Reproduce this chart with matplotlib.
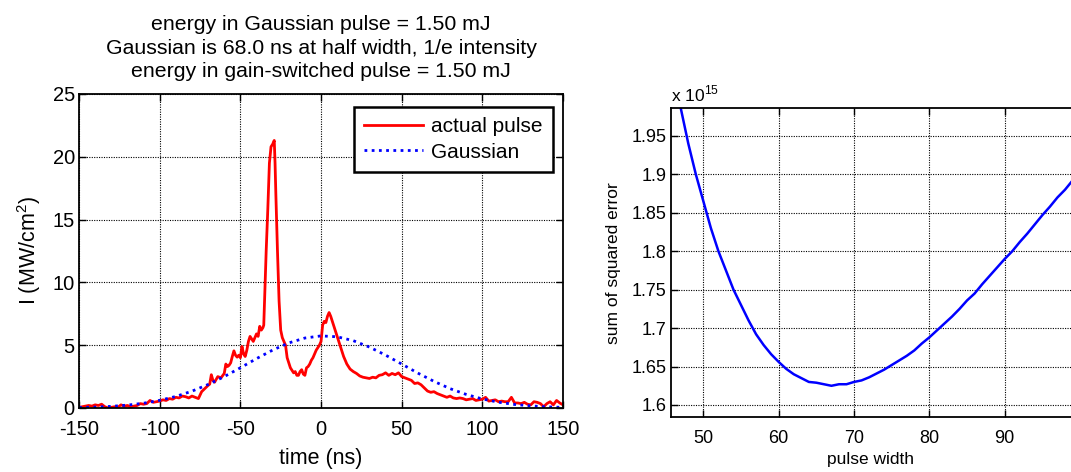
import matplotlib
matplotlib.use("Agg")
import matplotlib.pyplot as plt

## data
# left panel: measured (gain-switched) pulse
t_actual = [-150, -148, -146, -144, -142, -140, -138, -136, -134, -132, -130, -128, -126, -124, -122,
            -120, -118, -116, -114, -112, -110, -108, -106, -104, -102,
            -100, -98, -96, -94, -92, -90, -88, -86, -84, -82, -80, -78, -76, -74, -72,
            -70, -69, -68, -67, -66, -64, -62, -60, -59, -58, -57, -56, -55, -54, -53, -52, -51,
            -50, -49, -48, -47, -46, -45, -44, -43, -42, -41, -40, -39, -38, -37, -36, -35.5,
            -35, -34, -33, -32, -31, -30, -29, -28.5, -28, -27, -26, -25, -24, -23, -22, -21,
            -20, -19, -18, -17, -16, -15, -14, -13, -12, -11, -10, -9, -8, -7, -6, -5, -4, -3, -2, -1,
            0, 1, 2, 3, 4, 5, 6, 7, 8, 9, 10, 11, 12, 13, 14, 15, 16, 17, 18,
            20, 22, 24, 26, 28, 30, 32, 34, 36, 38, 40, 42, 44, 46, 48,
            50, 52, 54, 56, 58, 60, 62, 64, 66, 68, 70, 72, 74, 76, 78,
            80, 82, 84, 86, 88, 90, 92, 94, 96, 98, 100, 102, 104, 106, 108,
            110, 112, 114, 116, 118, 120, 122, 124, 126, 128, 130, 132, 134, 136, 138,
            140, 142, 144, 146, 148, 150]
I_actual = [0.05, 0.1, 0.15, 0.2, 0.15, 0.25, 0.2, 0.3, 0.1, 0.0, 0.05, 0.1, 0.05, 0.25, 0.15,
            0.2, 0.1, 0.15, 0.2, 0.35, 0.3, 0.35, 0.6, 0.45, 0.5,
            0.55, 0.65, 0.6, 0.75, 0.7, 0.85, 0.8, 0.95, 0.9, 0.8, 0.95, 0.85, 0.75, 1.3, 1.55,
            1.8, 1.9, 2.65, 2.2, 2.05, 2.5, 2.4, 2.75, 3.5, 3.3, 3.4, 3.6, 4.1, 4.55, 4.2, 4.05, 4.2,
            4.0, 4.9, 4.3, 4.1, 4.6, 5.3, 5.7, 5.5, 5.3, 5.6, 5.9, 5.7, 6.5, 6.2, 6.4, 6.6,
            8.5, 12.5, 15.8, 19.5, 20.8, 21.0, 21.3, 19.5, 17.0, 12.5, 8.5, 6.2, 5.6, 5.3, 5.0, 4.0,
            3.6, 3.2, 3.0, 2.8, 2.9, 2.6, 2.6, 2.9, 3.05, 2.7, 2.6, 3.2, 3.3, 3.5, 3.8, 4.0, 4.3, 4.6, 4.8, 5.0,
            5.3, 6.6, 6.9, 6.8, 7.3, 7.6, 7.3, 6.9, 6.5, 6.1, 5.7, 5.3, 4.9, 4.5, 4.1, 3.8, 3.5, 3.3, 3.1,
            2.9, 2.75, 2.55, 2.45, 2.4, 2.35, 2.45, 2.4, 2.6, 2.65, 2.8, 2.6, 2.75, 2.65, 2.8,
            2.5, 2.4, 2.3, 2.2, 1.95, 2.0, 1.85, 1.6, 1.35, 1.25, 1.3, 1.15, 1.05, 0.95, 0.85,
            0.95, 0.8, 0.75, 0.8, 0.75, 0.65, 0.7, 0.75, 0.6, 0.65, 0.7, 0.85, 0.55, 0.6, 0.65,
            0.5, 0.55, 0.5, 0.5, 0.85, 0.4, 0.4, 0.35, 0.45, 0.3, 0.25, 0.5, 0.45, 0.35, 0.1,
            0.35, 0.5, 0.25, 0.6, 0.4, 0.25]

# left panel: fitted Gaussian
t_gauss = [-150, -140, -130, -120, -110, -100, -90, -80, -70, -60, -50, -40, -30, -20, -10,
           0, 10, 20, 30, 40, 50, 60, 70, 80, 90, 100, 110, 120, 130, 140, 150]
I_gauss = [0.04, 0.07, 0.13, 0.23, 0.38, 0.61, 0.92, 1.34, 1.87, 2.50, 3.20, 3.93, 4.61, 5.18, 5.57,
           5.74, 5.67, 5.36, 4.85, 4.21, 3.50, 2.78, 2.12, 1.54, 1.08, 0.72, 0.46, 0.28, 0.17, 0.09, 0.05]

# right panel: sum of squared error (x 1e15) vs pulse width
width = [47, 48, 49, 50, 51, 52, 53, 54, 55, 56, 57, 58, 59, 60, 61, 62, 63, 64, 65, 66, 67, 68, 69,
         70, 71, 72, 73, 74, 75, 76, 77, 78, 79, 80, 81, 82, 83, 84, 85, 86, 87, 88, 89, 90,
         91, 92, 93, 94, 95, 96, 97, 98, 99]
sse = [1.986, 1.94, 1.90, 1.865, 1.83, 1.80, 1.775, 1.75, 1.73, 1.71, 1.692, 1.678, 1.666, 1.656,
       1.647, 1.64, 1.635, 1.63, 1.629, 1.627, 1.625, 1.627, 1.627, 1.63, 1.632, 1.636, 1.641, 1.646,
       1.652, 1.658, 1.664, 1.671, 1.68, 1.688, 1.697, 1.706, 1.715, 1.725, 1.736, 1.745, 1.757,
       1.768, 1.779, 1.79, 1.80, 1.812, 1.823, 1.835, 1.847, 1.858, 1.87, 1.88, 1.892]

titleLines = ["energy in Gaussian pulse = 1.50 mJ",
              "Gaussian is 68.0 ns at half width, 1/e intensity",
              "energy in gain-switched pulse = 1.50 mJ"]

## plot parameters
plt.rcParams["font.family"] = ["Liberation Sans", "DejaVu Sans"]
plt.rcParams["mathtext.fontset"] = "custom"
plt.rcParams["mathtext.rm"] = "Liberation Sans"
plt.rcParams["axes.unicode_minus"] = False
tickFont = 14.5
labelFont = 15.5
titleFont = 15.3
legendFont = 15
smallTick = 13
smallLabel = 12.5


def MatlabAxes(ax, fontsize, xpad):
	ax.grid(True, color="black", linestyle=(0, (1, 1.2)), linewidth=0.8)
	ax.tick_params(direction="in", top=True, right=True, labelsize=fontsize, length=5, width=1, pad=3)
	ax.tick_params(axis="x", pad=xpad)
	for s in ax.spines.values():
		s.set_linewidth(1.3)
	ax.set_axisbelow(True)


fig = plt.figure(figsize=(10.71, 4.72), dpi=100)
fig.set_facecolor("white")

# left: pulse shapes
ax1 = fig.add_axes([0.0738, 0.1356, 0.4519, 0.6653])
ax1.plot(t_actual, I_actual, color="red", linewidth=2, label="actual pulse")
ax1.plot(t_gauss, I_gauss, color="blue", linewidth=2, linestyle=(0, (1, 1.6)), label="Gaussian")
ax1.set_xlim(-150, 150)
ax1.set_ylim(0, 25)
ax1.set_xticks(range(-150, 151, 50))
ax1.set_yticks(range(0, 26, 5))
MatlabAxes(ax1, tickFont, 9)
ax1.set_xlabel("time (ns)", fontsize=labelFont, labelpad=6)
ax1.set_ylabel("I (MW/cm$^2$)", fontsize=labelFont, labelpad=7)
ax1.set_title("\n".join(titleLines), fontsize=titleFont, linespacing=1.32, pad=12)
leg = ax1.legend(loc="upper right", fontsize=legendFont, fancybox=False, framealpha=1,
                 edgecolor="black", borderpad=0.5, handlelength=2.8, handletextpad=0.4,
                 labelspacing=0.3, borderaxespad=0, bbox_to_anchor=(0.979, 0.959))
leg.get_frame().set_linewidth(1.8)

# right: error vs pulse width
ax2 = fig.add_axes([0.6265, 0.1159, 0.3735, 0.6547])
ax2.plot(width, sse, color="blue", linewidth=1.8)
ax2.set_xlim(45.7, 98.8)
ax2.set_ylim(1.584, 1.986)
ax2.set_xticks(range(50, 91, 10))
ax2.set_yticks([1.6, 1.65, 1.7, 1.75, 1.8, 1.85, 1.9, 1.95])
ax2.set_yticklabels(["1.6", "1.65", "1.7", "1.75", "1.8", "1.85", "1.9", "1.95"])
MatlabAxes(ax2, smallTick, 9)
ax2.spines["right"].set_visible(False)
ax2.tick_params(right=False)
ax2.set_xlabel("pulse width", fontsize=smallLabel, labelpad=4)
ax2.set_ylabel("sum of squared error", fontsize=smallLabel, labelpad=8)
ax2.text(0.0, 1.012, "x 10$^{15}$", transform=ax2.transAxes, fontsize=smallLabel, ha="left", va="bottom")

fig.savefig("out.png", dpi=100, facecolor="white")
